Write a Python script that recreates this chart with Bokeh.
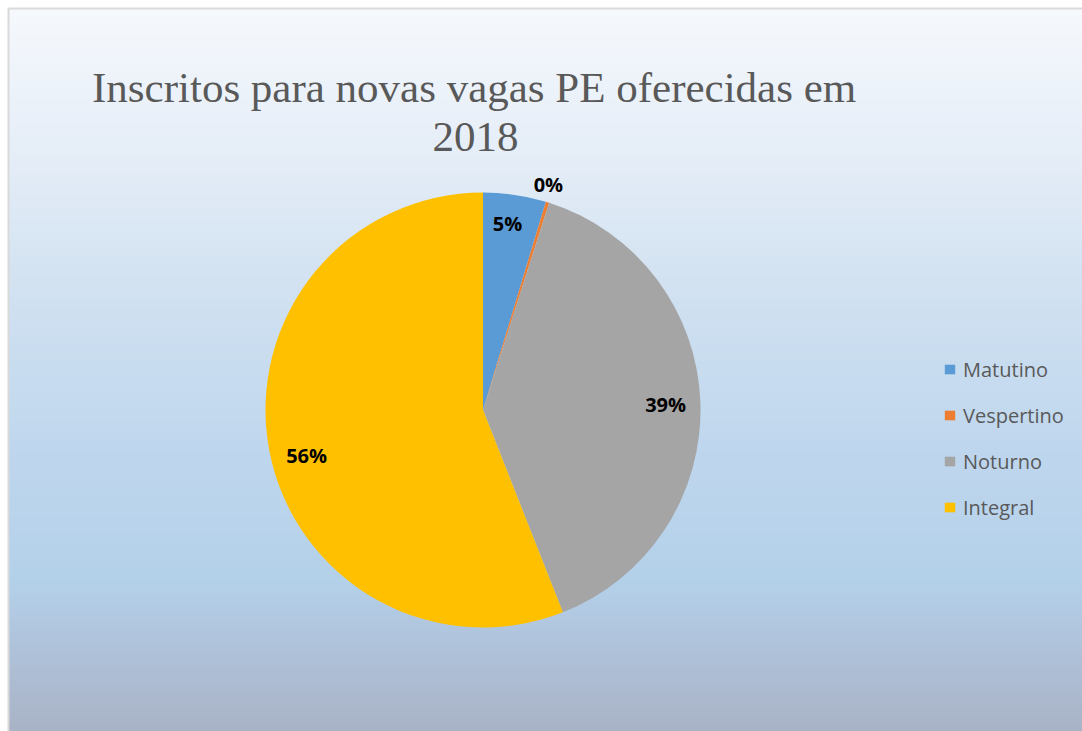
import math
import numpy as np
from bokeh.plotting import figure
from bokeh.models import ColumnDataSource, Range1d, Legend, LegendItem
from bokeh.core.properties import value
from bokeh.embed import file_html
from bokeh.resources import INLINE

# ---------------- data ----------------
categories = ["Matutino", "Vespertino", "Noturno", "Integral"]
shares = [4.67, 0.25, 39.1, 56.0]          # percent of inscritos
colors = ["#5b9bd5", "#ed7d31", "#a5a5a5", "#ffc000"]
title_lines = ["Inscritos para novas vagas PE oferecidas  em", "2018"]

# ---------------- layout / style ----------------
W, H = 1082, 731
X0, TOP = 8, 723          # chart-area left edge and top edge (data units = px)
CX, CY, R = 482.5, 321.5, 217.5
label_radius = [0.865, 1.08, 0.84, 0.838]
label_nudge_deg = [-0.9, -1.1, 0.2, -3.8]

vals = np.array(shares, dtype=float)
frac = vals / vals.sum()
cum = np.concatenate([[0.0], np.cumsum(frac)])
start = [math.pi / 2 - 2 * math.pi * cum[i] for i in range(len(frac))]
end = [math.pi / 2 - 2 * math.pi * cum[i + 1] for i in range(len(frac))]
pct_text = [f"{int(round(f * 100))}%" for f in frac]

src = ColumnDataSource(dict(cat=categories, start=start, end=end, color=colors,
                            x=[CX] * 4, y=[CY] * 4))

p = figure(width=W, height=H, output_backend="svg", toolbar_location=None,
           x_range=Range1d(0, W), y_range=Range1d(0, H), min_border=0)
p.axis.visible = False
p.grid.visible = False
p.background_fill_color = "white"
p.border_fill_color = "white"
p.outline_line_color = None

# background gradient (offset from chart top -> colour)
stops_y = [0, 142, 292, 442, 572, 632, 723]
stops_c = ["#f6f9fd", "#e6eef8", "#d0e1f1", "#bfd7ee", "#b4d1ea", "#b0c4dc", "#a9b3c6"]
rgb = np.array([[int(c[i:i + 2], 16) for i in (1, 3, 5)] for c in stops_c], dtype=float)
GH = TOP
ys = np.arange(GH)
img = np.zeros((GH, 1, 4), dtype=np.uint8)
for ch in range(3):
    col = np.interp(ys, stops_y, rgb[:, ch])
    img[:, 0, ch] = col[::-1].astype(np.uint8)  # row 0 = bottom
img[:, 0, 3] = 255
p.image_rgba(image=[img.view(np.uint32).reshape(GH, 1)], x=X0, y=0, dw=W - X0 + 2, dh=GH)

# chart-area border (left and top visible)
p.segment(x0=[X0, X0], y0=[0, TOP], x1=[X0, W + 5], y1=[TOP, TOP],
          line_color="#d9d9d9", line_width=2)

# pie
r = p.wedge(x="x", y="y", radius=R, start_angle="start", end_angle="end",
            direction="clock", fill_color="color", line_color=None, source=src)

# data labels
lx, ly = [], []
for i in range(len(frac)):
    mid = (start[i] + end[i]) / 2 + math.radians(-label_nudge_deg[i])
    lx.append(CX + R * label_radius[i] * math.cos(mid))
    ly.append(CY + R * label_radius[i] * math.sin(mid))
p.text(x=lx, y=ly, text=pct_text, text_font=value("Open Sans"), text_font_style="bold",
       text_font_size="20px", text_color="#000000", text_align="center", text_baseline="middle")

# title
p.text(x=[479, 475], y=[644, 594.5], text=title_lines, text_font=value("Liberation Serif"),
       text_font_size="43px", text_color="#595959", text_align="center",
       text_baseline="alphabetic")

# legend
items = [LegendItem(label=categories[i], renderers=[r], index=i) for i in range(len(categories))]
legend = Legend(items=items, location=(943, 208), orientation="vertical",
                glyph_width=13, glyph_height=12, label_height=32, spacing=14,
                label_standoff=7, padding=0, margin=0,
                label_text_font="Open Sans", label_text_font_size="20px",
                label_text_color="#595959", border_line_color=None,
                background_fill_alpha=0)
p.add_layout(legend, "center")

open("out.html", "w").write(file_html(p, INLINE))
